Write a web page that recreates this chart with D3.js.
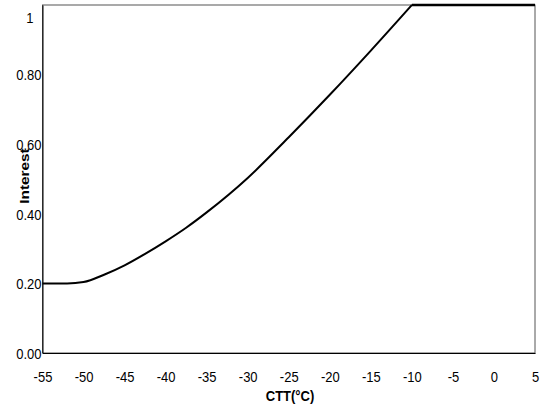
<!DOCTYPE html>
<html>
<head>
<meta charset="utf-8">
<script src="https://cdn.jsdelivr.net/npm/d3@7"></script>
<style>
  body { margin: 0; background: #fff; }
  text { font-family: Arial, "Liberation Sans", sans-serif; }
</style>
</head>
<body>
<svg id="chart" width="545" height="409"></svg>
<script>
// curve
const ctt = [-55, -52, -50, -47.5, -45, -42.5, -40, -37.5, -35, -30, -25, -20, -15, -10, 5];
const interest = [0.2, 0.2, 0.204, 0.225, 0.252, 0.285, 0.321, 0.36, 0.404, 0.503, 0.62, 0.742, 0.869, 1.0, 1.0];

const xTicks = [-55, -50, -45, -40, -35, -30, -25, -20, -15, -10, -5, 0, 5];
const yTicks = [0, 0.2, 0.4, 0.6, 0.8, 1];

const svg = d3.select("#chart");
const stretch = 1.18; // text in the original looks stretched vertically

const x = d3.scaleLinear().domain([-55, 5]).range([42.5, 535]);
const y = d3.scaleLinear().domain([0, 1]).range([353, 5]);

// plot frame
svg.append("rect")
    .attr("x", x(-55)).attr("y", y(1))
    .attr("width", x(5) - x(-55)).attr("height", y(0) - y(1))
    .attr("fill", "none").attr("stroke", "#555").attr("stroke-width", 1);

// x axis
const xAxis = svg.append("g")
    .attr("transform", `translate(0,${y(0)})`)
    .call(d3.axisBottom(x).tickValues(xTicks).tickSize(0).tickFormat(d3.format("d")));
xAxis.select(".domain").attr("stroke", "#000");
xAxis.selectAll("text")
    .attr("y", 29 / stretch).attr("dy", 0)
    .attr("transform", `scale(1,${stretch})`)
    .attr("font-size", 13).attr("fill", "#000")
    .text(d => d < 0 ? "-" + Math.abs(d) : d);

// y axis
const yAxis = svg.append("g")
    .attr("transform", `translate(${x(-55)},0)`)
    .call(d3.axisLeft(y).tickValues(yTicks).tickSize(0)
        .tickFormat(d => d === 1 ? "1" : d3.format(".2f")(d)));
yAxis.select(".domain").attr("stroke", "#000");
yAxis.selectAll("text")
    .attr("x", -1).attr("dy", "0.35em")
    .attr("transform", `scale(1,${stretch})`)
    .attr("font-size", 13).attr("fill", "#000");
// the top label sits lower and further left in the original
yAxis.selectAll(".tick").filter(d => d === 1).select("text")
    .attr("x", -9).attr("y", 12 / stretch);

// the curve: smooth rise up to -10, then flat at 1
const pts = ctt.map((c, i) => [c, interest[i]]);
const rise = pts.filter(p => p[0] <= -10);
const flat = pts.filter(p => p[0] >= -10);

const smooth = d3.line()
    .x(d => x(d[0]))
    .y(d => y(d[1]))
    .curve(d3.curveMonotoneX);
const straight = d3.line()
    .x(d => x(d[0]))
    .y(d => y(d[1]));

svg.append("path")
    .datum(rise)
    .attr("d", smooth)
    .attr("fill", "none")
    .attr("stroke", "#000")
    .attr("stroke-width", 2)
    .attr("stroke-linejoin", "miter");

svg.append("path")
    .datum(flat)
    .attr("d", straight)
    .attr("fill", "none")
    .attr("stroke", "#000")
    .attr("stroke-width", 2.5);

// axis titles
svg.append("text")
    .attr("transform", `translate(290,401) scale(1,${stretch})`)
    .attr("text-anchor", "middle")
    .attr("font-size", 13).attr("font-weight", "bold")
    .text("CTT(°C)");

svg.append("text")
    .attr("transform", `translate(29,176) rotate(-90) scale(${stretch},1)`)
    .attr("text-anchor", "middle")
    .attr("font-size", 13).attr("font-weight", "bold")
    .text("Interest");
</script>
</body>
</html>
